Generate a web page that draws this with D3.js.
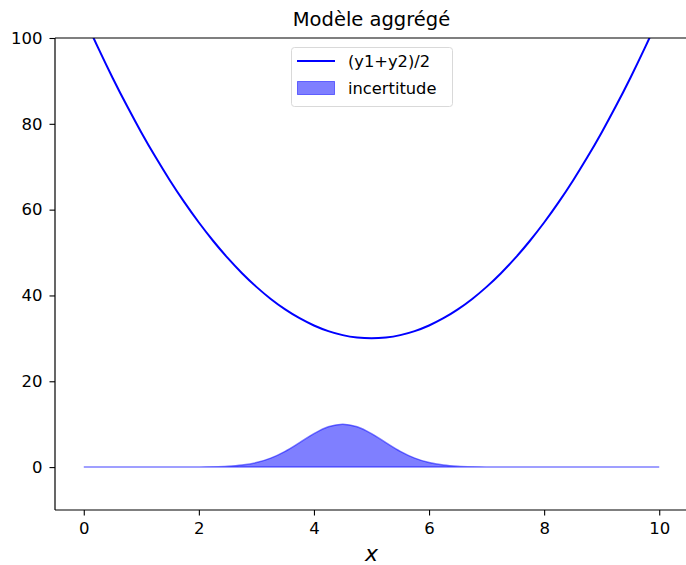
<!doctype html>
<html lang="fr">
<head>
<meta charset="utf-8">
<title>Modèle aggrégé</title>
<script src="https://cdn.jsdelivr.net/npm/d3@7"></script>
<style>
html, body { margin: 0; padding: 0; background: #fff; }
svg text { font-family: "DejaVu Sans", sans-serif; fill: #000; }
</style>
</head>
<body>
<svg id="chart" width="686" height="565"></svg>
<script>
// valeurs lues sur la figure, pas de 0.25 en x
const xs = [0, 0.25, 0.5, 0.75, 1, 1.25, 1.5, 1.75, 2, 2.25, 2.5, 2.75, 3, 3.25, 3.5, 3.75, 4, 4.25, 4.5, 4.75,
            5, 5.25, 5.5, 5.75, 6, 6.25, 6.5, 6.75, 7, 7.25, 7.5, 7.75, 8, 8.25, 8.5, 8.75, 9, 9.25, 9.5, 9.75, 10];
const moyenne = [105, 97.69, 90.75, 84.19, 78, 72.19, 66.75, 61.69, 57, 52.69, 48.75, 45.19, 42, 39.19, 36.75, 34.69, 33, 31.69, 30.75, 30.19,
                 30, 30.19, 30.75, 31.69, 33, 34.69, 36.75, 39.19, 42, 45.19, 48.75, 52.69, 57, 61.69, 66.75, 72.19, 78, 84.19, 90.75, 97.69, 105];
const incertitude = [0, 0, 0, 0, 0, 0, 0.001, 0.005, 0.02, 0.06, 0.18, 0.47, 1.05, 2.10, 3.68, 5.70, 7.79, 9.39, 10, 9.39,
                     7.79, 5.70, 3.68, 2.10, 1.05, 0.47, 0.18, 0.06, 0.02, 0.005, 0.001, 0, 0, 0, 0, 0, 0, 0, 0, 0, 0];
const xTicks = [0, 2, 4, 6, 8, 10];
const yTicks = [0, 20, 40, 60, 80, 100];

const svg = d3.select("#chart");
const margin = {left: 55, top: 38, right: 688, bottom: 510};

const x = d3.scaleLinear().domain([-0.5, 10.5]).range([margin.left, margin.right]);
const y = d3.scaleLinear().domain([-10, 100]).range([margin.bottom, margin.top]);

svg.append("defs").append("clipPath").attr("id", "clip")
  .append("rect")
  .attr("x", margin.left).attr("y", margin.top)
  .attr("width", margin.right - margin.left).attr("height", margin.bottom - margin.top);

const data = xs.map((v, i) => ({x: v, m: moyenne[i], u: incertitude[i]}));
const plot = svg.append("g").attr("clip-path", "url(#clip)");

// zone d'incertitude
plot.append("path")
  .datum(data)
  .attr("fill", "rgba(0,0,255,0.5)")
  .attr("stroke", "rgba(0,0,255,0.5)")
  .attr("stroke-width", 1.5)
  .attr("d", d3.area().x(d => x(d.x)).y0(y(0)).y1(d => y(d.u)).curve(d3.curveCatmullRom));

// courbe moyenne
plot.append("path")
  .datum(data)
  .attr("fill", "none")
  .attr("stroke", "#0000ff")
  .attr("stroke-width", 2)
  .attr("d", d3.line().x(d => x(d.x)).y(d => y(d.m)).curve(d3.curveCatmullRom));

// axes
const xAxis = svg.append("g")
  .attr("transform", "translate(0," + margin.bottom + ")")
  .call(d3.axisBottom(x).tickValues(xTicks).tickSize(5.5).tickPadding(7).tickFormat(d3.format("d")));
const yAxis = svg.append("g")
  .attr("transform", "translate(" + margin.left + ",0)")
  .call(d3.axisLeft(y).tickValues(yTicks).tickSize(5.5).tickPadding(7).tickFormat(d3.format("d")));
[xAxis, yAxis].forEach(a => {
  a.select(".domain").attr("stroke", "#000").attr("stroke-width", 1.2).attr("d",
    a === xAxis ? "M" + margin.left + ",0H" + margin.right : "M0," + margin.bottom + "V" + margin.top);
  a.selectAll(".tick line").attr("stroke", "#000").attr("stroke-width", 1.1);
  a.selectAll(".tick text").attr("font-family", "DejaVu Sans").attr("font-size", 16.5).attr("fill", "#000");
});
// cadre du haut
svg.append("line")
  .attr("x1", margin.left).attr("x2", margin.right)
  .attr("y1", margin.top).attr("y2", margin.top)
  .attr("stroke", "#000").attr("stroke-width", 1.2);

// titre et label
svg.append("text")
  .attr("x", (margin.left + margin.right) / 2).attr("y", 26)
  .attr("text-anchor", "middle").attr("font-size", 19.5)
  .text("Modèle aggrégé");
svg.append("text")
  .attr("x", (margin.left + margin.right) / 2).attr("y", 561)
  .attr("text-anchor", "middle").attr("font-size", 22).attr("font-style", "italic")
  .text("x");

// légende
const leg = svg.append("g");
leg.append("rect")
  .attr("x", 291.5).attr("y", 47.5).attr("width", 161).attr("height", 59).attr("rx", 3)
  .attr("fill", "rgba(255,255,255,0.8)").attr("stroke", "#d9d9d9");
leg.append("line")
  .attr("x1", 297).attr("x2", 335).attr("y1", 61).attr("y2", 61)
  .attr("stroke", "#0000ff").attr("stroke-width", 2);
leg.append("rect")
  .attr("x", 297.5).attr("y", 81.5).attr("width", 37).attr("height", 13)
  .attr("fill", "rgba(0,0,255,0.5)").attr("stroke", "rgba(0,0,255,0.5)");
leg.append("text").attr("x", 348).attr("y", 67).attr("font-size", 16.3).text("(y1+y2)/2");
leg.append("text").attr("x", 348).attr("y", 94).attr("font-size", 16.3).text("incertitude");
</script>
</body>
</html>
